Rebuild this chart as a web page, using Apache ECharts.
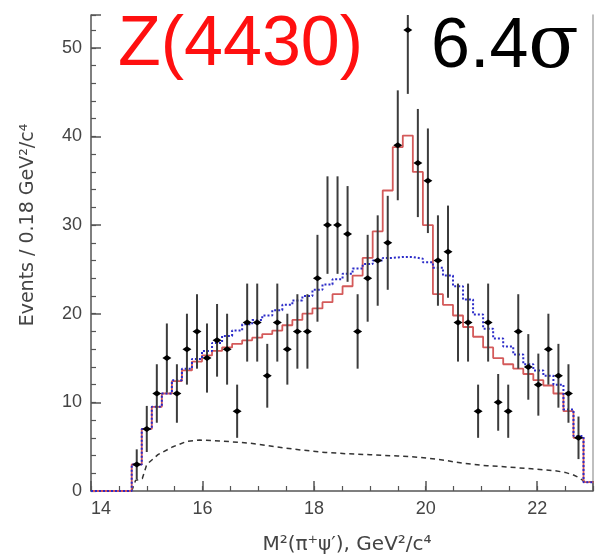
<!DOCTYPE html>
<html>
<head>
<meta charset="utf-8">
<script src="https://cdn.jsdelivr.net/npm/echarts@6/dist/echarts.min.js"></script>
<style>
html,body{margin:0;padding:0;background:#fff;}
#chart{width:596px;height:556px;}
</style>
</head>
<body>
<div id="chart"></div>
<script>
// ---- data ----
const xMin = 14, xMax = 23, yMin = 0, yMax = 53.7;
const xTickLabels = [14, 16, 18, 20, 22];
const yTickLabels = [0, 10, 20, 30, 40, 50];

// lower edges of the 0.18 GeV^2 bins of the fit histograms (last edge closes the range)
const binLow = [14.73,14.91,15.09,15.27,15.45,15.63,15.81,15.99,16.17,16.35,16.53,16.71,16.89,17.07,17.25,17.43,17.61,17.79,17.97,18.15,18.33,18.51,18.69,18.87,19.05,19.23,19.41,19.59,19.77,19.95,20.13,20.31,20.49,20.67,20.85,21.03,21.21,21.39,21.57,21.75,21.93,22.11,22.29,22.47,22.65,22.83];
const binEnd = 23.01;

// fit with Z(4430) (red histogram)
const fitWithZ = [3.0,7.0,9.5,11.0,12.4,13.6,14.6,15.3,15.8,16.2,16.6,17.0,17.3,17.7,18.1,18.7,19.3,20.0,20.6,21.3,22.2,23.1,24.3,26.3,29.3,33.9,38.8,40.1,36.0,30.0,22.2,21.0,19.8,18.5,17.4,16.2,15.0,14.3,13.8,13.2,12.5,11.9,11.0,9.0,6.0,1.0];
// fit without Z (blue dotted histogram)
const fitNoZ = [3.0,7.0,9.5,11.0,12.5,13.8,14.9,15.8,16.7,17.5,18.1,18.8,19.3,19.8,20.4,21.0,21.5,22.0,22.7,23.3,23.9,24.5,25.1,25.6,26.0,26.3,26.4,26.4,26.2,25.8,25.2,24.3,23.1,21.6,19.9,18.3,17.2,16.3,15.4,14.3,13.6,13.0,12.0,9.2,6.2,1.0];

// data points
const dataX = [14.82,15.00,15.18,15.36,15.54,15.72,15.90,16.08,16.26,16.44,16.62,16.80,16.98,17.16,17.34,17.52,17.70,17.88,18.06,18.24,18.42,18.60,18.78,18.96,19.14,19.32,19.50,19.68,19.86,20.04,20.22,20.40,20.58,20.76,20.94,21.12,21.30,21.48,21.66,21.84,22.02,22.20,22.38,22.56,22.74];
const dataY = [3,7,11,15,11,16,18,15,17,16,9,19,19,13,19,16,18,18,24,30,30,29,18,24,26,28,39,52,37,35,26,27,19,19,9,19,10,9,18,14,12,16,13,11,6];
const dataErr = [1.7,2.6,3.3,3.9,3.3,4.0,4.2,3.9,4.1,4.0,3.0,4.4,4.4,3.6,4.4,4.0,4.2,4.2,4.9,5.5,5.5,5.4,4.2,4.9,5.1,5.3,6.2,7.2,6.1,5.9,5.1,5.2,4.4,4.4,3.0,4.4,3.2,3.0,4.2,3.7,3.5,4.0,3.6,3.3,2.4];

// background (black dashed)
const bkgX = [14.73,14.80,14.92,15.00,15.20,15.47,15.72,15.95,16.30,16.63,16.84,17.30,17.80,18.20,18.60,19.00,19.50,19.90,20.30,20.70,21.10,21.50,21.90,22.30,22.50,22.65,22.75,22.85,23.00];
const bkgY = [0.0,1.2,1.4,3.0,4.1,5.0,5.6,5.75,5.65,5.5,5.4,5.0,4.6,4.35,4.2,4.1,3.95,3.8,3.5,3.1,2.85,2.7,2.5,2.3,2.1,1.8,1.5,1.05,1.0];

// ---- build ----
function stepData(vals){
  const d = [[xMin, 0]];
  binLow.forEach((e, i) => d.push([e, vals[i]]));
  d.push([binEnd, vals[vals.length - 1]]);
  return d;
}
const points = dataX.map((x, i) => [x, dataY[i], dataErr[i]]);
const bkg = bkgX.map((x, i) => [x, bkgY[i]]);

const axisColor = '#555';
const labelFont = 'Liberation Sans';

const chart = echarts.init(document.getElementById('chart'), null, {renderer: 'canvas'});
chart.setOption({
  animation: false,
  backgroundColor: '#fff',
  grid: {left: 91, right: 2, top: 15, bottom: 65},
  xAxis: [
    {type: 'value', min: xMin, max: xMax, interval: 2, position: 'bottom',
      axisLine: {lineStyle: {color: axisColor, width: 1.5}},
      axisTick: {inside: true, length: 10, lineStyle: {color: axisColor, width: 1.5}},
      axisLabel: {color: '#444', fontSize: 18, fontFamily: labelFont, margin: 9, alignMinLabel: 'left',
        formatter: v => xTickLabels.includes(v) ? String(v) : ''},
      splitLine: {show: false}},
    {type: 'value', min: xMin, max: xMax, interval: 0.5, position: 'bottom',
      axisLine: {show: false},
      axisTick: {inside: true, length: 5, lineStyle: {color: axisColor, width: 1.2}},
      axisLabel: {show: false}, splitLine: {show: false}}
  ],
  yAxis: [
    {type: 'value', min: yMin, max: yMax, interval: 10, position: 'left',
      axisLine: {show: true, lineStyle: {color: axisColor, width: 1.5}},
      axisTick: {show: true, inside: true, length: 10, lineStyle: {color: axisColor, width: 1.5}},
      axisLabel: {color: '#444', fontSize: 18, fontFamily: labelFont, margin: 9,
        formatter: v => yTickLabels.includes(v) ? String(v) : ''},
      splitLine: {show: false}},
    {type: 'value', min: yMin, max: yMax, interval: 2, position: 'left',
      axisLine: {show: false},
      axisTick: {show: true, inside: true, length: 5, lineStyle: {color: axisColor, width: 1.2}},
      axisLabel: {show: false}, splitLine: {show: false}},
    {type: 'value', min: yMin, max: yMax, position: 'right',
      axisLine: {show: true, lineStyle: {color: '#aaa', width: 1.5}},
      axisTick: {show: false}, axisLabel: {show: false}, splitLine: {show: false}}
  ],
  series: [
    {type: 'line', name: 'bkg', data: bkg, showSymbol: false, symbol: 'none', clip: true,
      lineStyle: {color: '#333', width: 1.5, type: [5, 4]}, z: 2},
    {type: 'line', name: 'fitWithZ', data: stepData(fitWithZ), step: 'end', symbol: 'none', clip: true,
      lineStyle: {color: '#d45a5a', width: 1.8}, z: 3},
    {type: 'line', name: 'fitNoZ', data: stepData(fitNoZ), step: 'end', symbol: 'none', clip: true,
      lineStyle: {color: '#2b2bc8', width: 2, type: [2, 2]}, z: 4},
    {type: 'custom', name: 'data', data: points, clip: true, z: 5,
      renderItem: function(params, api){
        const x = api.value(0), y = api.value(1), e = api.value(2);
        const top = api.coord([x, Math.min(y + e, yMax)]);
        const bot = api.coord([x, Math.max(y - e, yMin)]);
        const c = api.coord([x, y]);
        return {type: 'group', children: [
          {type: 'line', shape: {x1: top[0], y1: top[1], x2: bot[0], y2: bot[1]},
            style: {stroke: '#3c3c3c', lineWidth: 2}},
          {type: 'polygon', shape: {points: [[c[0]-4.5, c[1]], [c[0], c[1]-3], [c[0]+4.5, c[1]], [c[0], c[1]+3]]},
            style: {fill: '#000'}}
        ]};
      }}
  ],
  graphic: [
    {type: 'text', left: 118, top: 11, style: {text: 'Z(4430)', fill: '#ff1010',
      font: '70px "Liberation Sans"'}},
    {type: 'text', left: 431, top: 11, style: {text: '{a|6.4}{b|σ}', fill: '#000',
      rich: {a: {font: '70px "Liberation Sans"', fill: '#000'},
             b: {font: '74px "DejaVu Serif"', fill: '#000'}}}},
    {type: 'text', x: 28, y: 225, rotation: Math.PI / 2,
      style: {text: 'Events / 0.18 GeV²/c⁴', fill: '#444', font: '19px "DejaVu Sans"',
        align: 'center', verticalAlign: 'middle'}},
    {type: 'text', x: 347, y: 545,
      style: {text: 'M²(π⁺ψ′), GeV²/c⁴', fill: '#444', font: '20px "DejaVu Sans"',
        align: 'center', verticalAlign: 'middle'}}
  ]
});
</script>
</body>
</html>
